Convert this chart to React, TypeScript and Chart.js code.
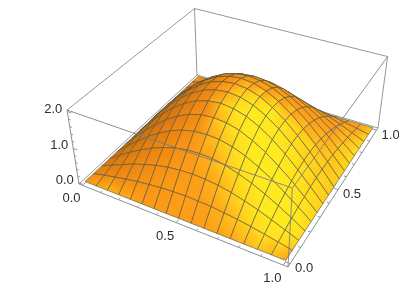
import { useEffect, useRef } from "react";
import { Chart, registerables } from "chart.js";

Chart.register(...registerables);

// Heights at each mesh crossing (17 x 17, rows along y, columns along x).
const surfaceHeights = [
  [0, 0, 0, 0, 0, 0, 0, 0, 0, 0, 0, 0, 0, 0, 0, 0, 0],
  [0, 0.08, 0.15, 0.22, 0.28, 0.32, 0.36, 0.38, 0.39, 0.38, 0.36, 0.32, 0.28, 0.22, 0.15, 0.08, 0],
  [0, 0.15, 0.29, 0.43, 0.54, 0.64, 0.71, 0.75, 0.77, 0.75, 0.71, 0.64, 0.54, 0.43, 0.29, 0.15, 0],
  [0, 0.22, 0.43, 0.62, 0.79, 0.92, 1.03, 1.09, 1.11, 1.09, 1.03, 0.92, 0.79, 0.62, 0.43, 0.22, 0],
  [0, 0.28, 0.54, 0.79, 1.0, 1.18, 1.31, 1.39, 1.41, 1.39, 1.31, 1.18, 1.0, 0.79, 0.54, 0.28, 0],
  [0, 0.32, 0.64, 0.92, 1.18, 1.38, 1.54, 1.63, 1.66, 1.63, 1.54, 1.38, 1.18, 0.92, 0.64, 0.32, 0],
  [0, 0.36, 0.71, 1.03, 1.31, 1.54, 1.71, 1.81, 1.85, 1.81, 1.71, 1.54, 1.31, 1.03, 0.71, 0.36, 0],
  [0, 0.38, 0.75, 1.09, 1.39, 1.63, 1.81, 1.92, 1.96, 1.92, 1.81, 1.63, 1.39, 1.09, 0.75, 0.38, 0],
  [0, 0.39, 0.77, 1.11, 1.41, 1.66, 1.85, 1.96, 2.0, 1.96, 1.85, 1.66, 1.41, 1.11, 0.77, 0.39, 0],
  [0, 0.38, 0.75, 1.09, 1.39, 1.63, 1.81, 1.92, 1.96, 1.92, 1.81, 1.63, 1.39, 1.09, 0.75, 0.38, 0],
  [0, 0.36, 0.71, 1.03, 1.31, 1.54, 1.71, 1.81, 1.85, 1.81, 1.71, 1.54, 1.31, 1.03, 0.71, 0.36, 0],
  [0, 0.32, 0.64, 0.92, 1.18, 1.38, 1.54, 1.63, 1.66, 1.63, 1.54, 1.38, 1.18, 0.92, 0.64, 0.32, 0],
  [0, 0.28, 0.54, 0.79, 1.0, 1.18, 1.31, 1.39, 1.41, 1.39, 1.31, 1.18, 1.0, 0.79, 0.54, 0.28, 0],
  [0, 0.22, 0.43, 0.62, 0.79, 0.92, 1.03, 1.09, 1.11, 1.09, 1.03, 0.92, 0.79, 0.62, 0.43, 0.22, 0],
  [0, 0.15, 0.29, 0.43, 0.54, 0.64, 0.71, 0.75, 0.77, 0.75, 0.71, 0.64, 0.54, 0.43, 0.29, 0.15, 0],
  [0, 0.08, 0.15, 0.22, 0.28, 0.32, 0.36, 0.38, 0.39, 0.38, 0.36, 0.32, 0.28, 0.22, 0.15, 0.08, 0],
  [0, 0, 0, 0, 0, 0, 0, 0, 0, 0, 0, 0, 0, 0, 0, 0, 0],
];
const xTicks = [0, 0.5, 1];
const yTicks = [0, 0.5, 1];
const zTicks = [0, 1, 2];
const xMinorTicks = [0.1, 0.2, 0.3, 0.4, 0.6, 0.7, 0.8, 0.9];
const yMinorTicks = [0.1, 0.2, 0.3, 0.4, 0.6, 0.7, 0.8, 0.9];
const zMinorTicks = [0.2, 0.4, 0.6, 0.8, 1.2, 1.4, 1.6, 1.8];

// Camera: a perspective projection from box coordinates to the chart's x / y scales.
const cam = {
  o: [79, 184], a: [171, 47.8], b: [161.4, -92.5], c: [-16.69, -81.7],
  g: -0.1319, h: 0.2203, i: -0.07,
};
const xRange = [-0.02, 1.02];
const yRange = [-0.02, 1.02];
const zRange = [-0.04, 2.04];
const light = [0.51, -0.36, 0.78];

const norm = (v: number, r: number[]) => (v - r[0]) / (r[1] - r[0]);
const depth = (x: number, y: number, z: number) =>
  1 + cam.g * norm(x, xRange) + cam.h * norm(y, yRange) + cam.i * norm(z, zRange);
function project(x: number, y: number, z: number) {
  const u = norm(x, xRange), v = norm(y, yRange), s = norm(z, zRange);
  const w = depth(x, y, z);
  return {
    x: (cam.o[0] + cam.a[0] * u + cam.b[0] * v + cam.c[0] * s) / w,
    y: (cam.o[1] + cam.a[1] * u + cam.b[1] * v + cam.c[1] * s) / w,
  };
}

const ramp: [number, number[]][] = [
  [0, [165, 85, 10]], [0.35, [235, 130, 15]], [0.55, [255, 160, 25]], [0.8, [255, 208, 28]], [1, [255, 234, 32]],
];
function rampColor(tt: number) {
  const t = Math.max(0, Math.min(1, tt));
  for (let k = 1; k < ramp.length; k++) {
    if (t <= ramp[k][0]) {
      const f = (t - ramp[k - 1][0]) / (ramp[k][0] - ramp[k - 1][0]);
      const c = ramp[k][1].map((v, n) => Math.round(ramp[k - 1][1][n] + (v - ramp[k - 1][1][n]) * f));
      return `rgb(${c[0]},${c[1]},${c[2]})`;
    }
  }
  return "rgb(255,234,32)";
}

const N = surfaceHeights.length - 1;
function shade(i: number, j: number) {
  // i: row (y), j: column (x)
  const h = surfaceHeights;
  const j0 = Math.max(0, j - 1), j1 = Math.min(N, j + 1);
  const i0 = Math.max(0, i - 1), i1 = Math.min(N, i + 1);
  const dx = (0.2 * (h[i][j1] - h[i][j0])) / ((j1 - j0) / N);
  const dy = (0.2 * (h[i1][j] - h[i0][j])) / ((i1 - i0) / N);
  const len = Math.hypot(dx, dy, 1);
  const nx = -dx / len, ny = -dy / len, nz = 1 / len;
  const d2 = (nx - light[0]) ** 2 + (ny - light[1]) ** 2 + (nz - light[2]) ** 2;
  return (
    Math.max(0.5, 1.02 - 1.4 * d2) +
    0.45 * Math.min(nx, 0) -
    0.1 * Math.max(ny, 0) +
    0.07 * (j / N)
  );
}

function buildCells(ctx: CanvasRenderingContext2D) {
  const cells: { w: number; ds: any }[] = [];
  for (let i = 0; i < N; i++) {
    for (let j = 0; j < N; j++) {
      const corners = [[i, j], [i, j + 1], [i + 1, j + 1], [i + 1, j]];
      const pts = corners.map(([r, c]) => project(c / N, r / N, surfaceHeights[r][c]));
      const ts = corners.map(([r, c]) => shade(r, c));
      let lo = 0, hi = 0;
      ts.forEach((t, k) => { if (t < ts[lo]) lo = k; if (t > ts[hi]) hi = k; });
      const gr = ctx.createLinearGradient(pts[lo].x, pts[lo].y, pts[hi].x, pts[hi].y);
      gr.addColorStop(0, rampColor(ts[lo]));
      gr.addColorStop(1, rampColor(ts[hi]));
      const mr = i + 0.5, mc = j + 0.5;
      const mz = corners.reduce((s, [r, c]) => s + surfaceHeights[r][c], 0) / 4;
      cells.push({
        w: depth(mc / N, mr / N, mz),
        ds: {
          data: [...pts, pts[0]],
          showLine: true,
          pointRadius: 0,
          borderWidth: 1,
          borderColor: "rgba(85,85,60,0.62)",
          backgroundColor: gr,
          fill: "shape",
          tension: 0,
        },
      });
    }
  }
  cells.sort((p, q) => q.w - p.w);
  return cells.map((c) => c.ds);
}

const lineDs = (a: number[], b: number[], color: string, width = 1) => ({
  data: [project(a[0], a[1], a[2]), project(b[0], b[1], b[2])],
  showLine: true, pointRadius: 0, borderWidth: width, borderColor: color, fill: false,
});

const [x0, x1] = xRange, [y0, y1] = yRange, [z0, z1] = zRange;
const boxColor = "rgb(150,150,150)";
const overColor = "rgba(125,125,125,0.85)";

const backEdges = [
  [[x0, y1, z0], [x1, y1, z0]], [[x0, y1, z0], [x0, y1, z1]], [[x1, y1, z0], [x1, y1, z1]],
  [[x0, y1, z1], [x1, y1, z1]], [[x0, y0, z1], [x0, y1, z1]], [[x0, y0, z0], [x0, y1, z0]],
];
const frontEdges = [
  [[x0, y0, z0], [x1, y0, z0]], [[x1, y0, z0], [x1, y1, z0]], [[x0, y0, z0], [x0, y0, z1]],
  [[x1, y0, z0], [x1, y0, z1]], [[x0, y0, z1], [x1, y0, z1]], [[x1, y0, z1], [x1, y1, z1]],
];

function tickLines() {
  const out: any[] = [];
  xTicks.forEach((t) => out.push(lineDs([t, y0, z0], [t, y0 + 0.022, z0], boxColor)));
  xMinorTicks.forEach((t) => out.push(lineDs([t, y0, z0], [t, y0 + 0.012, z0], boxColor)));
  yTicks.forEach((t) => out.push(lineDs([x1, t, z0], [x1 - 0.022, t, z0], boxColor)));
  yMinorTicks.forEach((t) => out.push(lineDs([x1, t, z0], [x1 - 0.012, t, z0], boxColor)));
  zTicks.forEach((t) => out.push(lineDs([x0, y0, t], [x0 + 0.022, y0, t], boxColor)));
  zMinorTicks.forEach((t) => out.push(lineDs([x0, y0, t], [x0 + 0.012, y0, t], boxColor)));
  return out;
}

const labelPlugin = {
  id: "axisLabels",
  afterDraw(chart: any) {
    const { ctx, scales } = chart;
    ctx.save();
    ctx.font = '13px "Liberation Sans"';
    ctx.fillStyle = "rgb(45,45,45)";
    ctx.textAlign = "center";
    ctx.textBaseline = "middle";
    const put = (p: { x: number; y: number }, dx: number, dy: number, s: string) =>
      ctx.fillText(s, scales.x.getPixelForValue(p.x) + dx, scales.y.getPixelForValue(p.y) + dy);
    xTicks.forEach((t) => put(project(t, y0, z0), -11, 13.5, t.toFixed(1)));
    yTicks.forEach((t) => put(project(x1, t, z0), 14, 5, t.toFixed(1)));
    zTicks.forEach((t) => put(project(x0, y0, t), -14, -2.5, t.toFixed(1)));
    ctx.restore();
  },
};

export default function App() {
  const ref = useRef<HTMLCanvasElement>(null);
  useEffect(() => {
    const canvas = ref.current!;
    const ctx = canvas.getContext("2d")!;
    const sequence = [
      ...backEdges.map((e) => lineDs(e[0], e[1], boxColor)),
      ...buildCells(ctx),
      ...frontEdges.map((e) => lineDs(e[0], e[1], overColor)),
      ...tickLines(),
    ];
    // Chart.js paints higher `order` first, so earlier items sit underneath.
    const datasets = sequence.map((d, k) => ({ ...d, order: sequence.length - k }));
    const chart = new Chart(canvas, {
      type: "scatter",
      data: { datasets },
      options: {
        animation: false,
        responsive: false,
        parsing: false,
        layout: { padding: 0 },
        plugins: { legend: { display: false }, tooltip: { enabled: false } },
        events: [],
        scales: {
          x: { type: "linear", display: false, min: 0, max: 399 },
          y: { type: "linear", display: false, min: 0, max: 290, reverse: true },
        },
      } as any,
      plugins: [labelPlugin],
    });
    return () => chart.destroy();
  }, []);
  return (
    <canvas
      ref={ref}
      width={399}
      height={290}
      style={{ position: "fixed", left: 0, top: 0, width: 399, height: 290 }}
    />
  );
}
